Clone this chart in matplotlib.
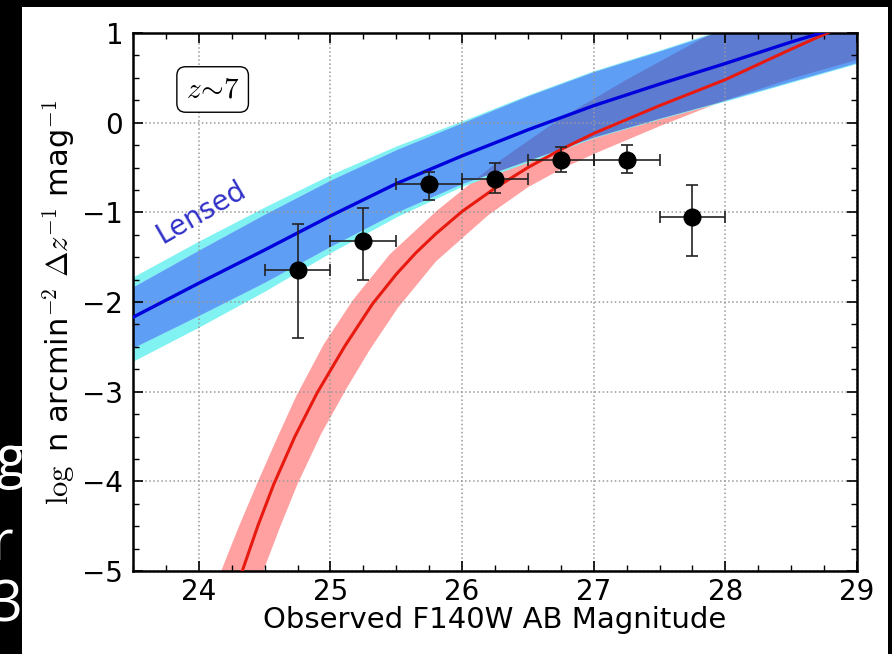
import matplotlib
matplotlib.use("Agg")
import matplotlib.pyplot as plt
from matplotlib.ticker import AutoMinorLocator, MultipleLocator
from matplotlib.patches import Rectangle

plt.rcParams['mathtext.fontset'] = 'cm'
plt.rcParams['font.family'] = 'DejaVu Sans'

# observed number counts
mag = [24.75, 25.25, 25.75, 26.25, 26.75, 27.25, 27.75]
logn = [-1.64, -1.32, -0.68, -0.63, -0.42, -0.42, -1.05]
err_lo = [0.76, 0.43, 0.18, 0.15, 0.13, 0.14, 0.44]
err_hi = [0.51, 0.37, 0.13, 0.18, 0.15, 0.17, 0.36]
mag_err = [0.25] * 7

# lensed model: median, 1-sigma and outer band
lens_x = [23.5, 24.0, 24.5, 25.0, 25.5, 26.0, 26.5, 27.0, 27.5, 28.0, 28.5, 29.0]
lens_mid = [-2.17, -1.79, -1.42, -1.04, -0.68, -0.37, -0.08, 0.19, 0.43, 0.66, 0.90, 1.12]
lens_hi = [-1.83, -1.42, -1.02, -0.64, -0.30, 0.00, 0.30, 0.57, 0.80, 1.04, 1.27, 1.50]
lens_lo = [-2.51, -2.15, -1.78, -1.38, -1.00, -0.68, -0.42, -0.16, 0.05, 0.25, 0.46, 0.67]
outer_hi = [-1.72, -1.32, -0.94, -0.58, -0.26, 0.02, 0.31, 0.58, 0.81, 1.05, 1.28, 1.51]
outer_lo = [-2.66, -2.28, -1.88, -1.45, -1.05, -0.71, -0.44, -0.17, 0.04, 0.24, 0.45, 0.66]

# intrinsic (unlensed) model
intr_x = [24.20, 24.33, 24.45, 24.57, 24.73, 24.90, 25.11, 25.32, 25.50, 25.65, 25.80,
          26.00, 26.25, 26.50, 26.75, 27.00, 27.50, 28.00, 28.50, 29.00]
intr_mid = [-5.57, -5.00, -4.49, -4.03, -3.50, -3.01, -2.49, -2.02, -1.69, -1.45, -1.24,
            -0.99, -0.73, -0.50, -0.30, -0.12, 0.19, 0.48, 0.82, 1.15]
intr_hi_x = [24.05, 24.17, 24.30, 24.45, 24.60, 24.74, 24.95, 25.17, 25.45, 25.81,
             26.25, 26.75, 27.25, 27.90, 28.50, 29.00]
intr_hi = [-5.45, -5.00, -4.52, -4.00, -3.50, -3.05, -2.47, -1.98, -1.47, -0.98,
           -0.46, 0.05, 0.48, 1.00, 1.42, 1.75]
intr_lo_x = [24.36, 24.49, 24.62, 24.75, 24.93, 25.12, 25.30, 25.51, 25.80, 26.20,
             26.50, 26.75, 27.00, 27.50, 28.00, 28.50, 29.00]
intr_lo = [-5.50, -5.00, -4.50, -4.03, -3.47, -2.97, -2.53, -2.07, -1.55, -1.03,
           -0.72, -0.52, -0.35, -0.04, 0.25, 0.49, 0.70]

W, H = 892, 654
fig = plt.figure(figsize=(W / 100, H / 100), dpi=100, facecolor='black')
fig.patches.append(Rectangle((22 / W, 0), 866 / W, 647 / H, transform=fig.transFigure,
                             facecolor='white', edgecolor='none', zorder=-5))

# bits of slide text poking in from the left
for ch, xr, yc in [('g', 25, 462), ('r', 13, 545), ('3', 22, 607)]:
    fig.text(xr / W, 1 - yc / H, ch, color='white', fontsize=40, ha='right', va='center',
             family='Open Sans')

ax = fig.add_axes([133 / W, 83 / H, 724 / W, 538 / H])

ax.fill(intr_hi_x + intr_lo_x[::-1], intr_hi + intr_lo[::-1], color='red', alpha=0.37,
        lw=0, zorder=1)
ax.fill_between(lens_x, lens_hi, outer_hi, color='#80f2f2', lw=0, zorder=1)
ax.fill_between(lens_x, outer_lo, lens_lo, color='#80f2f2', lw=0, zorder=1)
ax.fill_between(lens_x, lens_lo, lens_hi, color=(0, 102 / 255, 240 / 255), alpha=0.63,
                lw=0, zorder=1)

ax.plot(intr_x, intr_mid, color='#e81a10', lw=2.2, zorder=3)
ax.plot(lens_x, lens_mid, color='#0000dd', lw=2.4, zorder=3)

ax.errorbar(mag, logn, xerr=mag_err, yerr=[err_lo, err_hi], fmt='o', color='black',
            ecolor='#222222', elinewidth=1.2, capsize=4, capthick=1.2, ms=12, zorder=4)

ax.text(24.02, -1.0, 'Lensed', color='#3030c8', fontsize=20, rotation=30,
        ha='center', va='center')
ax.text(0.11, 0.895, r'$z\!\sim\!7$', transform=ax.transAxes, fontsize=21,
        ha='center', va='center',
        bbox=dict(boxstyle='round,pad=0.3', facecolor='white', edgecolor='black', lw=1))

ax.set_xlim(23.5, 29)
ax.set_ylim(-5, 1)
ax.xaxis.set_major_locator(MultipleLocator(1))
ax.yaxis.set_major_locator(MultipleLocator(1))
ax.xaxis.set_minor_locator(AutoMinorLocator(4))
ax.yaxis.set_minor_locator(AutoMinorLocator(4))
ax.tick_params(which='both', direction='in', top=True, right=True, labelsize=20)
ax.tick_params(which='major', length=7, width=1.2, pad=7)
ax.tick_params(axis='x', which='major', pad=5)
ax.tick_params(which='minor', length=4, width=1)
for s in ax.spines.values():
    s.set_linewidth(1.8)
ax.grid(True, which='major', linestyle=':', color='#999999', lw=1.1)

ax.set_xlabel('Observed F140W AB Magnitude', fontsize=21, labelpad=0)
ax.set_ylabel(r'$\log$ n arcmin$^{-2}$ $\Delta z^{-1}$ mag$^{-1}$', fontsize=22, labelpad=4)

fig.savefig('out.png', dpi=100, facecolor=fig.get_facecolor())
